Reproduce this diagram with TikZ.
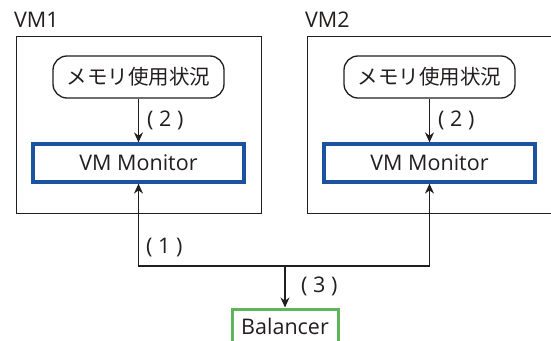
\documentclass[tikz,border=0pt]{standalone}
\usepackage{fontspec}
\setmainfont{Open Sans}
\newfontfamily\jpfont{Noto Sans CJK JP}
\usetikzlibrary{arrows.meta}
\definecolor{monblue}{RGB}{28,83,160}
\definecolor{balgreen}{RGB}{96,180,90}
\definecolor{ink}{RGB}{35,30,30}
\tikzset{
  every node/.style={font=\fontsize{21.5}{26}\selectfont, text=ink, inner sep=0pt},
  vmbox/.style={draw=ink, line width=1.3pt, anchor=north west},
  membox/.style={draw=ink, line width=1.3pt, rounded corners=14pt, minimum width=171pt, minimum height=42pt, font=\jpfont\fontsize{20.5}{24}\selectfont},
  monbox/.style={draw=monblue, line width=3.2pt, fill=white, minimum width=211pt, minimum height=38pt},
  balbox/.style={draw=balgreen, line width=3pt, minimum width=106pt, minimum height=50pt, anchor=north},
  arr/.style={draw=ink, line width=1.3pt, -{Stealth[length=10pt,width=9pt]}},
  darr/.style={draw=ink, line width=1.3pt, {Stealth[length=10pt,width=9pt]}-{Stealth[length=10pt,width=9pt]}},
  lbl/.style={anchor=west}
}
\begin{document}
\begin{tikzpicture}[x=1pt,y=-1pt]
\useasboundingbox (0,0) rectangle (551,340);
\clip (0,0) rectangle (551,340);
\node[vmbox, minimum width=245pt, minimum height=177pt] (vm1) at (16,36) {};
\node[vmbox, minimum width=260pt, minimum height=177pt] (vm2) at (307,36) {};
\node[anchor=west] (vm1l) at (14,20) {VM1};
\node[anchor=west] (vm2l) at (305,20) {VM2};
\node[membox] (mem1) at (138.5,77) {メモリ使用状況};
\node[membox] (mem2) at (429.5,77) {メモリ使用状況};
\node[monbox] (mon1) at (138.5,163) {VM Monitor};
\node[monbox] (mon2) at (429.5,163) {VM Monitor};
\node[balbox] (bal) at (285,307.5) {};
\node (balt) at (285,326) {Balancer};
\coordinate (j) at (285,266);
\draw[arr] (mem1) -- (mon1);
\draw[arr] (mem2) -- (mon2);
\draw[darr] (mon1.south) -- (mon1.south |- j) -- (mon2.south |- j) -- (mon2.south);
\draw[arr] (j) -- (bal.north);
\node[lbl] (l2a) at (147,120) {( 2 )};
\node[lbl] (l2b) at (438,120) {( 2 )};
\node[lbl] (l1) at (146,248) {( 1 )};
\node[lbl] (l3) at (301,286) {( 3 )};
\end{tikzpicture}
\end{document}
